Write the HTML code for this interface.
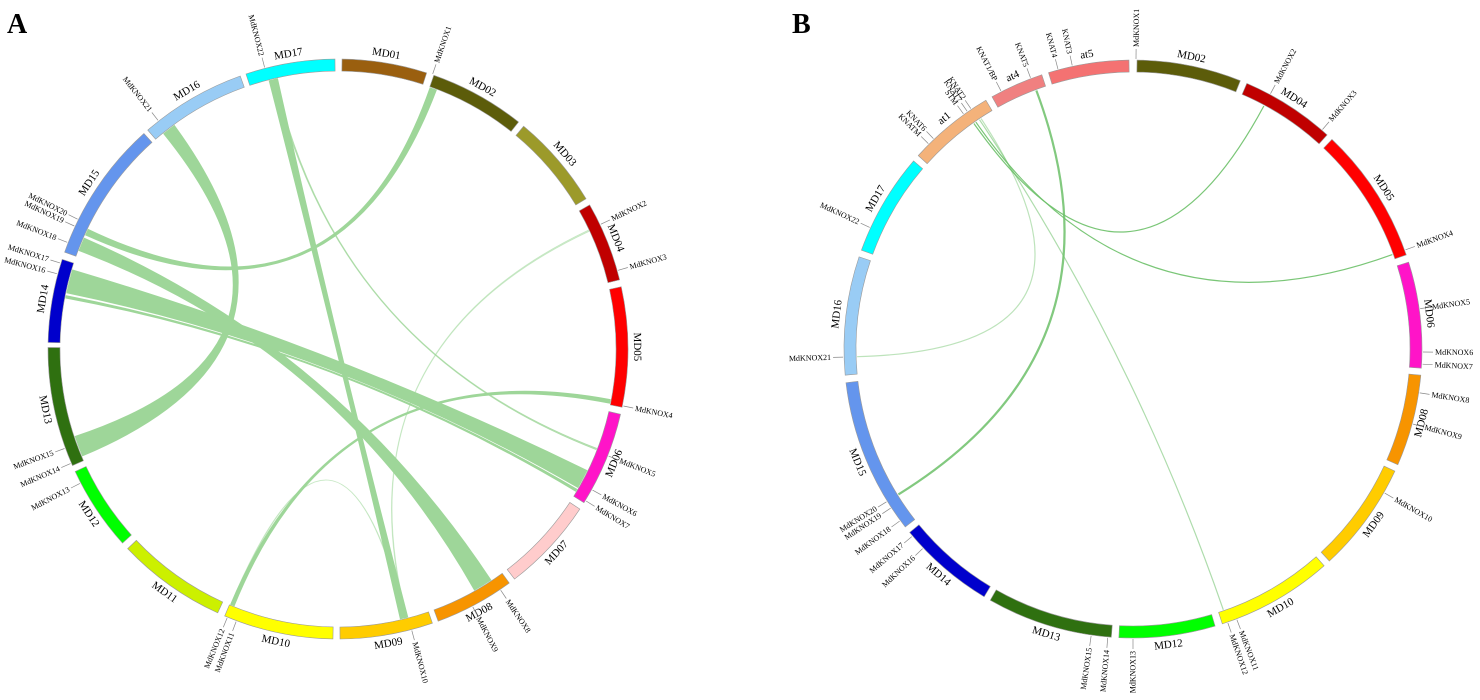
<!DOCTYPE html>
<html><head><meta charset="utf-8"><style>
html,body{margin:0;padding:0;background:#fff;}
svg{display:block;font-family:"Liberation Serif",serif;}
</style></head><body>
<svg id="chart" width="1480" height="700" viewBox="0 0 1480 700" xmlns="http://www.w3.org/2000/svg">
<text x="7" y="33" font-size="28" font-weight="bold">A</text>
<text x="792" y="33" font-size="28" font-weight="bold">B</text>
<g id="pa"></g>
<g id="pb"></g>
</svg>
<script>
// ---------- Panel A data ----------
const segNamesA = ["MD01","MD02","MD03","MD04","MD05","MD06","MD07","MD08","MD09","MD10","MD11","MD12","MD13","MD14","MD15","MD16","MD17"];
const segStartA = [0.8,19.3,39.8,60.2,77.6,103,123.5,143.8,161,181,204.5,228,246.3,271.3,289.5,319,341.5];
const segEndA   = [17.8,38.5,58.8,76.2,101.6,122,142.5,159.8,179.6,203,226.5,245,270.3,288,318,340.3,359.4];
const segColorA = ["#9a5f0f","#5c5c0a","#9c9a2a","#c00000","#ff0000","#ff14c8","#ffcccc","#f79400","#ffcc00","#ffff00","#ccf000","#00ff00","#2f7010","#0000cc","#6495ed","#99ccf5","#00ffff"];
const geneNamesA = ["MdKNOX1","MdKNOX2","MdKNOX3","MdKNOX4","MdKNOX5","MdKNOX6","MdKNOX7","MdKNOX8","MdKNOX9","MdKNOX10","MdKNOX11","MdKNOX12","MdKNOX13","MdKNOX14","MdKNOX15","MdKNOX16","MdKNOX17","MdKNOX18","MdKNOX19","MdKNOX20","MdKNOX21","MdKNOX22"];
const genePosA = [19,64.6,74.3,101.3,111.6,119,121.5,146,152.4,165.3,200.5,202.4,242.5,246.8,250,285,287.2,291.5,295,296.5,321.8,345.4];
// links: source arc [s1,s2] -> target arc [t1,t2] (degrees)
const linkS1A = [321,294.3,290.8,281.7,280.6,345.6,100.5,346.6,64.6,202.6];
const linkS2A = [323.8,295.6,293.6,286.6,281.1,347.4,101.3,346.9,64.9,202.8];
const linkT1A = [247.3,19.4,146.5,116,120.4,165.4,202.0,111,165.6,165.9];
const linkT2A = [251.6,20.8,150.5,120,120.9,167,202.8,111.3,165.8,166.1];
const linkAlphaA = [1,1,1,1,1,1,1,0.7,0.45,0.45];

// ---------- Panel B data ----------
const segNamesB = ["MD02","MD04","MD05","MD06","MD08","MD09","MD10","MD12","MD13","MD14","MD15","MD16","MD17","at1","at4","at5"];
const segStartB = [0.8,23.2,43.5,72.5,95.2,115,138.6,163.5,184.3,211,232,264.8,290,312,330.8,343];
const segEndB   = [21.8,42.2,71,93.8,113.6,137.2,162,182.8,209.6,230.6,263.3,288.6,310.6,329.4,341.6,359.2];
const segColorB = ["#5c5c0a","#c00000","#ff0000","#ff14c8","#f79400","#ffcc00","#ffff00","#00ff00","#2f7010","#0000cc","#6495ed","#99ccf5","#00ffff","#f4b27a","#f08080","#f47272"];
const geneNamesB = ["MdKNOX1","MdKNOX2","MdKNOX3","MdKNOX4","MdKNOX5","MdKNOX6","MdKNOX7","MdKNOX8","MdKNOX9","MdKNOX10","MdKNOX11","MdKNOX12","MdKNOX13","MdKNOX14","MdKNOX15","MdKNOX16","MdKNOX17","MdKNOX18","MdKNOX19","MdKNOX20","MdKNOX21","MdKNOX22","KNATM","KNAT6","STM","KNAT7","KNAT2","KNAT1/BP","KNAT5","KNAT4","KNAT3"];
const genePosB = [0.6,28.3,40.8,70,82,90.6,93,98.7,105,119.8,159,160.9,180,185,188.3,226.5,229.7,233.6,236.7,238.2,268.4,294.8,315.1,316.5,324.2,325.1,326,332.9,339.3,345,347.9];
const linkFromB = [324.8,325.3,326.6,326.2,339.5];
const linkToB   = [28.3,70,268.4,160.9,238.2];
const linkWidthB = [1.2,1.2,1.2,1.2,2.2];
const linkAlphaB = [0.9,0.9,0.45,0.55,0.85];

// ---------- helpers ----------
const NS = "http://www.w3.org/2000/svg";
function pt(cx, cy, r, a){ const t = a*Math.PI/180; return [cx + r*Math.sin(t), cy - r*Math.cos(t)]; }
function mk(tag, attrs, parent){ const e = document.createElementNS(NS, tag); for (const k in attrs) e.setAttribute(k, attrs[k]); parent.appendChild(e); return e; }
function f(p){ return p[0].toFixed(2)+","+p[1].toFixed(2); }

function drawPanel(g, cx, cy, R, segNames, segStart, segEnd, segColor, geneNames, genePos){
  const Ri = R - 12;
  for (let i = 0; i < segNames.length; i++){
    const s = segStart[i], e = segEnd[i];
    const d = "M"+f(pt(cx,cy,R,s))+" A"+R+","+R+" 0 0 1 "+f(pt(cx,cy,R,e))+" L"+f(pt(cx,cy,Ri,e))+" A"+Ri+","+Ri+" 0 0 0 "+f(pt(cx,cy,Ri,s))+" Z";
    const p = mk("path", {d:d, fill:segColor[i], stroke:"#9a9a9a", "stroke-width":"0.6"}, g);
    
    
    const m = (s+e)/2;
    const lp = pt(cx,cy,R+9,m);
    const rot = (m > 97 && m < 263) ? m-180 : m;
    const t = mk("text", {x:lp[0].toFixed(1), y:lp[1].toFixed(1), "font-size":"11", "text-anchor":"middle", "dominant-baseline":"central", transform:"rotate("+rot.toFixed(1)+" "+lp[0].toFixed(1)+" "+lp[1].toFixed(1)+")"}, g);
    t.textContent = segNames[i];
    
    
  }
  for (let i = 0; i < geneNames.length; i++){
    const a = genePos[i];
    const p1 = pt(cx,cy,R+1,a), p2 = pt(cx,cy,R+11,a), p3 = pt(cx,cy,R+13,a);
    const l = mk("line", {x1:p1[0].toFixed(1), y1:p1[1].toFixed(1), x2:p2[0].toFixed(1), y2:p2[1].toFixed(1), stroke:"#888", "stroke-width":"0.7"}, g);
    
    
    const right = a < 180;
    const rot = right ? a-90 : a+90;
    const t = mk("text", {x:p3[0].toFixed(1), y:p3[1].toFixed(1), "font-size":"8", "text-anchor": right ? "start" : "end", "dominant-baseline":"central", transform:"rotate("+rot.toFixed(1)+" "+p3[0].toFixed(1)+" "+p3[1].toFixed(1)+")"}, g);
    t.textContent = geneNames[i];
    
    
  }
}

// ---------- Panel A ----------
(function(){
  const g = document.getElementById("pa");
  const cx = 338, cy = 349, R = 290, Rl = 277;
  const lg = mk("g", {}, g);
  for (let i = 0; i < linkS1A.length; i++){
    const a = pt(cx,cy,Rl,linkS1A[i]), b = pt(cx,cy,Rl,linkS2A[i]);
    const c = pt(cx,cy,Rl,linkT1A[i]), d = pt(cx,cy,Rl,linkT2A[i]);
    const path = "M"+f(a)+" A"+Rl+","+Rl+" 0 0 1 "+f(b)+" Q"+cx+","+cy+" "+f(c)+" A"+Rl+","+Rl+" 0 0 1 "+f(d)+" Q"+cx+","+cy+" "+f(a)+" Z";
    const p = mk("path", {d:path, fill:"#9ed699", "fill-opacity":linkAlphaA[i], stroke:"#9ed699", "stroke-opacity":linkAlphaA[i], "stroke-width":"0.8"}, lg);
    
    
  }
  drawPanel(g, cx, cy, R, segNamesA, segStartA, segEndA, segColorA, geneNamesA, genePosA);
})();

// ---------- Panel B ----------
(function(){
  const g = document.getElementById("pb");
  const cx = 1133, cy = 349, R = 289, Rl = 276;
  const lg = mk("g", {}, g);
  for (let i = 0; i < linkFromB.length; i++){
    const a = pt(cx,cy,Rl,linkFromB[i]), b = pt(cx,cy,Rl,linkToB[i]);
    const p = mk("path", {d:"M"+f(a)+" Q"+cx+","+cy+" "+f(b), fill:"none", stroke:"#6cc068", "stroke-opacity":linkAlphaB[i], "stroke-width":linkWidthB[i]}, lg);
    
    
  }
  drawPanel(g, cx, cy, R, segNamesB, segStartB, segEndB, segColorB, geneNamesB, genePosB);
})();
</script>
</body></html>
